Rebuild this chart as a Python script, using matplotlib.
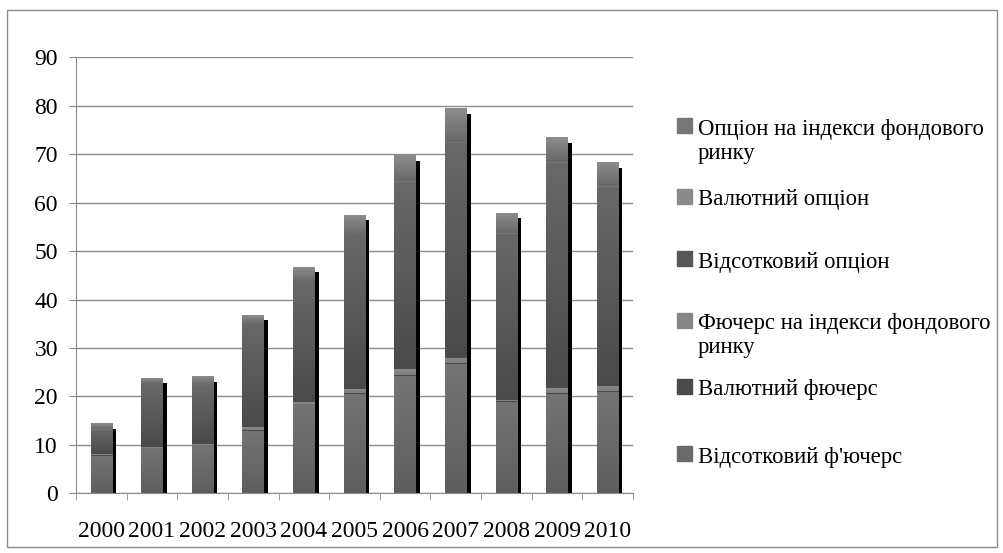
import numpy as np
import matplotlib
matplotlib.use('Agg')
import matplotlib.pyplot as plt
from matplotlib.colors import LinearSegmentedColormap
from matplotlib.patches import Rectangle
from matplotlib.transforms import offset_copy

plt.rcParams['font.family'] = ['Liberation Serif', 'DejaVu Serif']

years = ['2000', '2001', '2002', '2003', '2004', '2005', '2006', '2007', '2008', '2009', '2010']

# values, bottom series first
vids_fut = [7.8, 9.3, 9.9, 12.9, 18.4, 20.5, 24.3, 26.7, 18.9, 20.5, 20.9]
val_fut = [0.1, 0.1, 0.1, 0.1, 0.1, 0.2, 0.2, 0.2, 0.1, 0.2, 0.2]
idx_fut = [0.2, 0.2, 0.2, 0.7, 0.3, 0.9, 1.2, 1.1, 0.3, 1.1, 1.1]
vids_opt = [5.0, 12.9, 11.9, 21.2, 24.8, 31.7, 38.6, 44.3, 34.3, 46.4, 41.0]
val_opt = [0.1, 0.1, 0.1, 0.1, 0.1, 0.1, 0.2, 0.2, 0.2, 0.2, 0.2]
idx_opt = [1.1, 1.2, 1.9, 1.8, 3.0, 4.1, 5.2, 6.9, 4.1, 5.0, 4.9]

labels = ["Відсотковий ф'ючерс", 'Валютний фючерс', 'Фючерс на індекси фондового\nринку',
          'Відсотковий опціон', 'Валютний опціон', 'Опціон на індекси фондового\nринку']
series = [vids_fut, val_fut, idx_fut, vids_opt, val_opt, idx_opt]
# (bottom colour, top colour) of each segment gradient
grads = [('#5e5e5e', '#747474'), ('#474747', '#4d4d4d'), ('#7e7e7e', '#8a8a8a'),
         ('#4a4a4a', '#686868'), ('#747474', '#7c7c7c'), ('#686868', '#8c8c8c')]
legend_cols = ['#6a6a6a', '#4a4a4a', '#868686', '#575757', '#8a8a8a', '#767676']

W, H = 1004, 553
fs = 17
fig = plt.figure(figsize=(W / 100, H / 100), dpi=100)
ax = fig.add_axes([76 / W, 1 - 493.3 / H, 557 / W, (493.3 - 57.5) / H])

x = np.arange(len(years))
width = 0.425
shadow_tr = offset_copy(ax.transData, fig=fig, x=4, y=-5, units='dots')

bottom = np.zeros(len(years))
for vals, (c0, c1) in zip(series, grads):
    vals = np.array(vals)
    # black drop shadow behind the bars
    ax.bar(x, vals, width, bottom=bottom, color='black', transform=shadow_tr, zorder=2)
    bars = ax.bar(x, vals, width, bottom=bottom, color=c0, zorder=3)
    cmap = LinearSegmentedColormap.from_list('g', [c0, c1])
    for r in bars:
        x0, y0 = r.get_xy()
        ax.imshow(np.linspace(0, 1, 64)[:, None], cmap=cmap, origin='lower', aspect='auto',
                  extent=[x0, x0 + r.get_width(), y0, y0 + r.get_height()], zorder=4)
    bottom += vals

ax.set_xlim(-0.5, len(years) - 0.5)
ax.set_ylim(0, 90)
ax.set_aspect('auto')

ax.set_yticks(range(0, 91, 10))
ax.yaxis.grid(True, color='#8c8c8c', lw=1)
ax.set_axisbelow(True)
ax.tick_params(axis='y', length=5, color='#8c8c8c', pad=8, labelsize=fs)
ax.set_xticks(x)
ax.set_xticklabels(years)
ax.set_xticks(np.arange(-0.5, len(years)), minor=True)
ax.tick_params(axis='x', which='major', length=0, pad=20, labelsize=fs)
ax.tick_params(axis='x', which='minor', length=5, color='#8c8c8c')
for s in ['top', 'right']:
    ax.spines[s].set_visible(False)
for s in ['left', 'bottom']:
    ax.spines[s].set_color('#8c8c8c')

# legend drawn by hand to keep Excel's uneven spacing
def fx(px):
    return px / W


def fy(py):
    return 1 - py / H


legend_y = [453.5, 386.5, 320.5, 258.5, 196.5, 125.5]
for lab, col, cy in zip(labels, legend_cols, legend_y):
    fig.patches.append(Rectangle((fx(677), fy(cy + 7.5)), 15 / W, 15 / H,
                                 transform=fig.transFigure, color=col))
    for i, line in enumerate(lab.split('\n')):
        fig.text(fx(698), fy(cy + 9 + i * 24), line, fontsize=16.4, va='baseline', ha='left')

# outer frame
fig.patches.append(Rectangle((fx(7), fy(547)), 990 / W, 537 / H, transform=fig.transFigure,
                             fill=False, edgecolor='#8c8c8c', lw=1))

fig.savefig('out.png', dpi=100)
